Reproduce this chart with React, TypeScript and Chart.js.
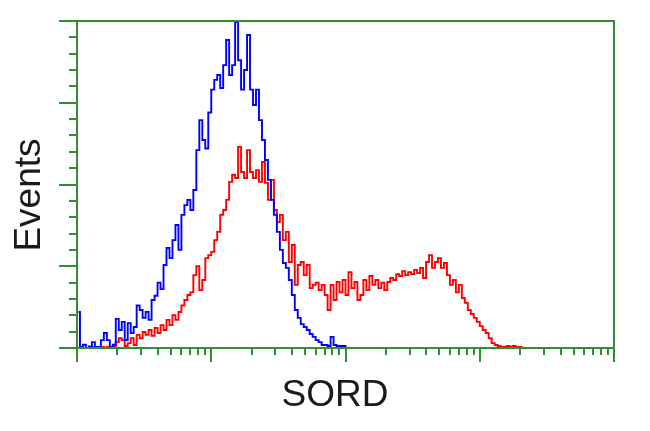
import { useEffect, useRef } from 'react';
import { Chart, registerables } from 'chart.js';

Chart.register(...registerables);

// Histogram channels spread over 4 log decades (1 .. 10^4)
const CHANNELS = 180;
const DECADES = 4;

// Control (blue) event counts per channel, from channel 0
const blueCounts = [
  11, 0.3, 1, 0, 0.5, 1.8, 0.3, 0.3, 2.4, 4.6,
  2.4, 0.3, 1, 8.9, 5.5, 8, 2.4, 7.6, 4.6, 6.4,
  13, 11.6, 9.2, 11, 8.6, 14.7, 16, 20, 18, 25.4,
  30.6, 27.5, 33, 37.6, 30, 40.7, 43.7, 45.3, 42.2, 48.3,
  60.5, 69.7, 63.6, 61, 72, 79, 82, 83.5, 79.5, 86.5,
  94.2, 83.5, 86.5, 99.7, 88, 79, 85, 95.7, 79, 74.3,
  79, 69.7, 63.6, 57.5, 51.4, 45.3, 40.7, 35.5, 30, 26,
  24.5, 20.8, 16.2, 11.6, 9.2, 7.3, 6.4, 5.5, 4.3, 3.4,
  2.4, 1.8, 0.9, 0.9, 0.6, 3.4, 0.9, 0.6, 0.6, 0.6,
  0,
];

// SORD (red) event counts per channel, from channel 0
const redCounts = [
  0, 0, 0, 0, 0.3, 0.3, 0, 0.3, 0.3, 0,
  0.3, 0, 0.5, 1.8, 3, 2.4, 0.6, 1.5, 3, 0.9,
  4, 3, 4.9, 4, 5.5, 3.7, 6.1, 4.6, 7, 5.5,
  8.6, 7, 10, 8.6, 11, 13, 14.7, 16.2, 17, 22.3,
  25, 17.7, 20.8, 27.5, 28.4, 29.4, 33, 35.5, 40.7, 42.2,
  45.3, 50.8, 53, 52, 61.5, 53.8, 52, 60.5, 53.8, 52,
  54.4, 50.8, 56.9, 50.5, 45.3, 51.4, 42.2, 38.5, 40.7, 33,
  35.5, 26.3, 31.5, 19.3, 25.4, 26.3, 22.3, 25.4, 18.3, 19.3,
  20, 17.7, 19.3, 16.2, 11.6, 19.3, 14.7, 20.2, 17, 20.8,
  16.2, 23.2, 18.3, 20.2, 14.7, 16.2, 20.8, 17.7, 22, 19.3,
  20.8, 18.3, 20, 17.7, 20.2, 21.4, 20.8, 22.6, 22, 23.5,
  22.3, 23.2, 22.6, 23.9, 22.9, 24.5, 21.4, 26.3, 28.4, 24.5,
  26.3, 27.5, 24.5, 26, 22.3, 19.3, 20.8, 17, 19.3, 15.3,
  13.8, 11.6, 10.4, 9.2, 8, 6.7, 5.5, 4.6, 3, 1.5,
  0.9, 0.6, 0.3, 0.3, 0.6, 0.3, 0.6, 0.3, 0.3, 0,
];

const xMajorTicks = [1, 10, 100, 1000, 10000];
const xMinorMultipliers = [2, 3, 4, 5, 6, 7, 8, 9];
const yMajorTicks = [0, 25, 50, 75, 100];
const yMinorTicks = [5, 10, 15, 20, 30, 35, 40, 45, 55, 60, 65, 70, 80, 85, 90, 95];

const xTitle = 'SORD';
const yTitle = 'Events';

const GREEN = '#2f8f2f';
const TEXT_FONT = '37px "Liberation Sans", Arial, sans-serif';

function toPoints(counts: number[]) {
  return counts.map((y, i) => ({ x: Math.pow(10, (DECADES * (i + 0.5)) / CHANNELS), y }));
}

const framePlugin = {
  id: 'cytoFrame',
  afterDatasetsDraw(chart: any) {
    const { ctx, chartArea: a, scales } = chart;
    const xs = scales.x;
    const ys = scales.y;
    ctx.save();
    ctx.strokeStyle = GREEN;
    ctx.lineWidth = 2;
    ctx.beginPath();
    // x ticks
    xMajorTicks.forEach((v, k) => {
      const px = Math.round(xs.getPixelForValue(v));
      ctx.moveTo(px, a.bottom);
      ctx.lineTo(px, a.bottom + 14);
      if (k < xMajorTicks.length - 1) {
        xMinorMultipliers.forEach((m) => {
          const mx = Math.round(xs.getPixelForValue(v * m));
          ctx.moveTo(mx, a.bottom);
          ctx.lineTo(mx, a.bottom + 7);
        });
      }
    });
    // y ticks
    yMajorTicks.forEach((v) => {
      const py = Math.round(ys.getPixelForValue(v));
      ctx.moveTo(a.left, py);
      ctx.lineTo(a.left - 18, py);
    });
    yMinorTicks.forEach((v) => {
      const py = Math.round(ys.getPixelForValue(v));
      ctx.moveTo(a.left, py);
      ctx.lineTo(a.left - 8, py);
    });
    ctx.stroke();
    ctx.strokeRect(a.left, a.top, a.right - a.left, a.bottom - a.top);

    // axis titles
    ctx.fillStyle = '#1a1a1a';
    ctx.font = TEXT_FONT;
    ctx.textAlign = 'center';
    ctx.textBaseline = 'middle';
    ctx.fillText(xTitle, 335, 396);
    ctx.translate(29.5, 195);
    ctx.rotate(-Math.PI / 2);
    ctx.fillText(yTitle, 0, 0);
    ctx.restore();
  },
};

export default function App() {
  const canvasRef = useRef<HTMLCanvasElement | null>(null);

  useEffect(() => {
    if (!canvasRef.current) return;
    const chart = new Chart(canvasRef.current, {
      type: 'line',
      data: {
        datasets: [
          {
            label: 'Control',
            data: toPoints(blueCounts),
            borderColor: 'rgb(0,0,255)',
            borderWidth: 1.9,
            pointRadius: 0,
            stepped: 'middle',
            fill: false,
          },
          {
            label: 'SORD',
            data: toPoints(redCounts),
            borderColor: 'rgb(255,0,0)',
            borderWidth: 1.9,
            pointRadius: 0,
            stepped: 'middle',
            fill: false,
          },
        ],
      },
      options: {
        responsive: false,
        animation: false,
        parsing: true,
        layout: { padding: { left: 77, top: 21, right: 36, bottom: 83 } },
        plugins: { legend: { display: false }, tooltip: { enabled: false } },
        scales: {
          x: { type: 'logarithmic', min: 1, max: 10000, display: false },
          y: { type: 'linear', min: 0, max: 100, display: false },
        },
      },
      plugins: [framePlugin],
    });
    return () => chart.destroy();
  }, []);

  return (
    <div style={{ position: 'absolute', left: 0, top: 0, width: 650, height: 431, background: '#fff' }}>
      <canvas ref={canvasRef} width={650} height={431} style={{ display: 'block' }} />
    </div>
  );
}
